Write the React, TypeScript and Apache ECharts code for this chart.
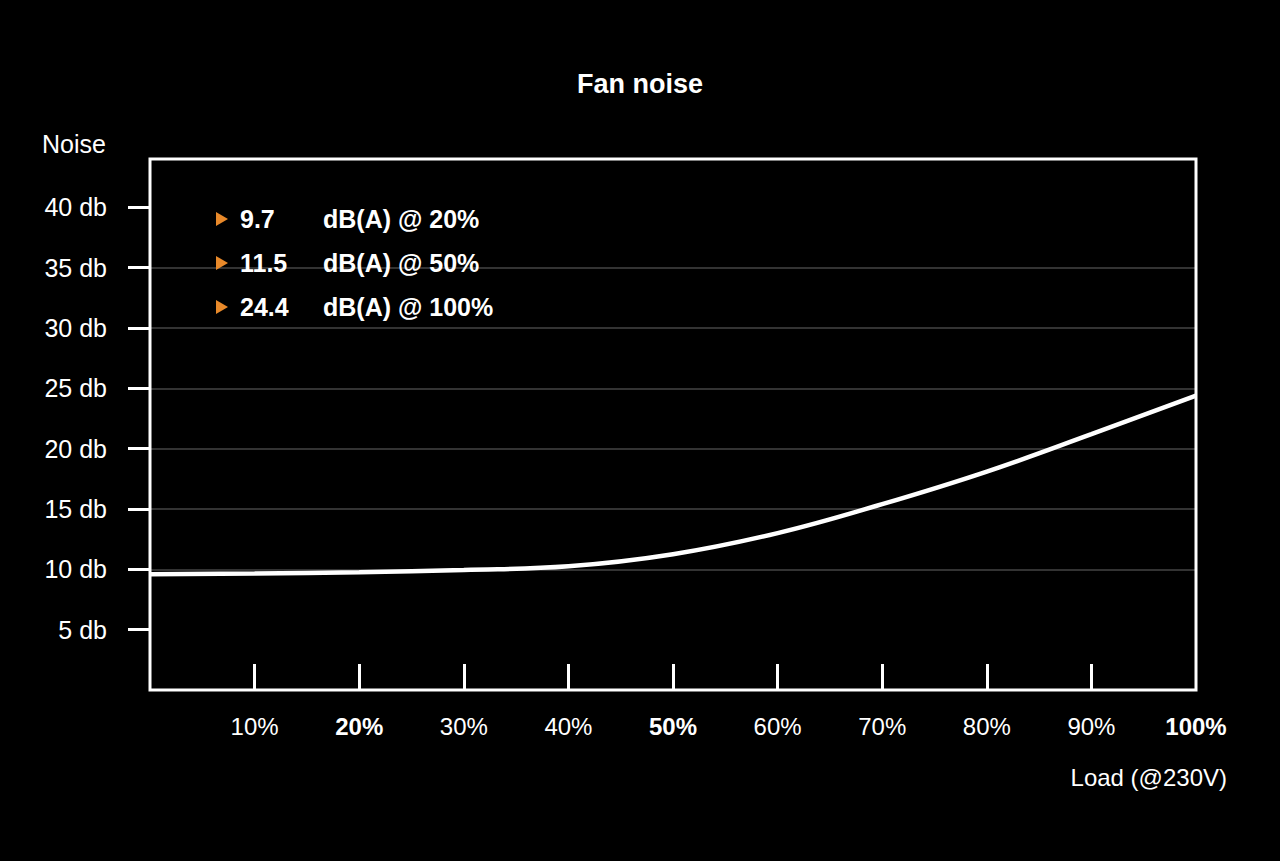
import React, { useEffect, useRef } from "react";
import * as echarts from "echarts";

const loads = [0, 10, 20, 30, 40, 50, 60, 70, 80, 90, 100];
const noiseDb = [9.6, 9.65, 9.75, 9.95, 10.25, 11.25, 13.0, 15.4, 18.1, 21.2, 24.4];
const xTickValues = [10, 20, 30, 40, 50, 60, 70, 80, 90];
const xLabelValues = [10, 20, 30, 40, 50, 60, 70, 80, 90, 100];
const boldLoads = [20, 50, 100];
const yTickValues = [5, 10, 15, 20, 25, 30, 35, 40];
const noteValues = ["9.7", "11.5", "24.4"];
const noteLoads = ["20%", "50%", "100%"];

const FONT = "'Liberation Sans', Arial, Helvetica, sans-serif";
const GRID = { left: 150, top: 159, right: 84, bottom: 171 };
const W = 1280;
const H = 861;

export default function App() {
  const ref = useRef<HTMLDivElement>(null);
  useEffect(() => {
    if (!ref.current) return;
    const chart = echarts.init(ref.current, undefined, { renderer: "svg" });
    const plotW = W - GRID.left - GRID.right;
    const plotH = H - GRID.top - GRID.bottom;

    const graphics: any[] = [
      {
        type: "rect",
        z: 100,
        shape: { x: GRID.left, y: GRID.top, width: plotW, height: plotH },
        style: { fill: "none", stroke: "#fff", lineWidth: 3 },
      },
      {
        type: "text",
        x: 42,
        y: 144,
        style: { text: "Noise", fill: "#fff", font: `25px ${FONT}`, textAlign: "left", textVerticalAlign: "middle" },
      },
      {
        type: "text",
        x: 1227,
        y: 777,
        style: { text: "Load (@230V)", fill: "#fff", font: `24px ${FONT}`, textAlign: "right", textVerticalAlign: "middle" },
      },
    ];
    noteValues.forEach((v, i) => {
      const cy = 219 + i * 44;
      graphics.push({
        type: "polygon",
        z: 50,
        shape: { points: [[216, cy - 7], [228, cy], [216, cy + 7]] },
        style: { fill: "#e8892a" },
      });
      graphics.push({
        type: "text",
        z: 50,
        x: 240,
        y: cy,
        style: { text: v, fill: "#fff", font: `bold 25px ${FONT}`, textAlign: "left", textVerticalAlign: "middle" },
      });
      graphics.push({
        type: "text",
        z: 50,
        x: 323,
        y: cy,
        style: { text: `dB(A) @ ${noteLoads[i]}`, fill: "#fff", font: `bold 25px ${FONT}`, textAlign: "left", textVerticalAlign: "middle" },
      });
    });

    chart.setOption({
      animation: false,
      backgroundColor: "#000",
      title: {
        text: "Fan noise",
        left: "center",
        top: 65,
        textStyle: { color: "#fff", fontFamily: FONT, fontWeight: "bold", fontSize: 27 },
      },
      grid: { left: GRID.left, top: GRID.top, right: GRID.right, bottom: GRID.bottom, containLabel: false },
      xAxis: {
        type: "value",
        min: 0,
        max: 100,
        interval: 10,
        axisLine: { show: false },
        axisTick: {
          show: true,
          inside: true,
          length: 26,
          customValues: xTickValues,
          lineStyle: { color: "#fff", width: 3 },
        },
        axisLabel: {
          show: true,
          margin: 24,
          customValues: xLabelValues,
          color: "#fff",
          fontFamily: FONT,
          fontSize: 24,
          formatter: (v: number) => (boldLoads.includes(v) ? `{b|${v}%}` : `${v}%`),
          rich: { b: { color: "#fff", fontFamily: FONT, fontSize: 24, fontWeight: "bold" } },
        },
        splitLine: { show: false },
      },
      yAxis: {
        type: "value",
        min: 0,
        max: 44,
        interval: 5,
        axisLine: { show: false },
        axisTick: {
          show: true,
          inside: false,
          length: 22,
          customValues: yTickValues,
          lineStyle: { color: "#fff", width: 3 },
        },
        axisLabel: {
          show: true,
          margin: 43,
          customValues: yTickValues,
          color: "#fff",
          fontFamily: FONT,
          fontSize: 25,
          formatter: (v: number) => `${v} db`,
        },
        splitLine: { show: true, showMinLine: false, showMaxLine: false, lineStyle: { color: "#444", width: 1.5 } },
      },
      series: [
        {
          type: "line",
          data: loads.map((x, i) => [x, noiseDb[i]]),
          smooth: 0.4,
          symbol: "none",
          lineStyle: { color: "#fff", width: 4.5 },
          z: 10,
        },
      ],
      graphic: graphics,
    });
    return () => chart.dispose();
  }, []);
  return (
    <div style={{ position: "absolute", left: 0, top: 0, width: W, height: H, background: "#000" }}>
      <div ref={ref} style={{ width: W, height: H }} />
    </div>
  );
}
